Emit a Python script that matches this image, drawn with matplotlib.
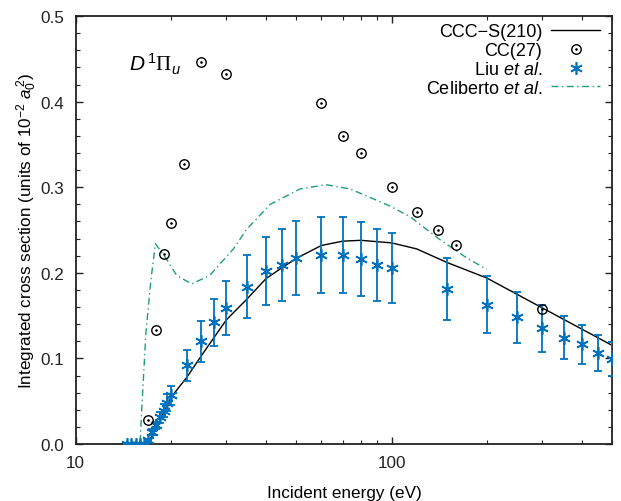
import matplotlib
matplotlib.use("Agg")
import matplotlib.pyplot as plt
from matplotlib.ticker import MultipleLocator, LogLocator, NullFormatter, FixedLocator, FixedFormatter
from matplotlib.legend_handler import HandlerTuple

plt.rcParams['font.family'] = ['Liberation Sans', 'DejaVu Sans']
plt.rcParams['mathtext.fontset'] = 'custom'
plt.rcParams['mathtext.rm'] = 'Liberation Sans'
plt.rcParams['mathtext.it'] = 'Liberation Sans:italic'
plt.rcParams['mathtext.sf'] = 'Liberation Serif'

# CCC-S(210)
ccc_E = [16.8, 17.5, 18, 18.3, 19, 19.6, 20, 22.5, 25, 28.6, 30, 35, 40, 45, 50, 60, 70, 80, 100, 120, 150, 200, 300, 500]
ccc_s = [0.0, 0.010, 0.018, 0.025, 0.037, 0.047, 0.054, 0.078, 0.103, 0.134, 0.145, 0.170, 0.193, 0.206, 0.217, 0.232,
         0.237, 0.238, 0.235, 0.228, 0.212, 0.194, 0.159, 0.115]

# CC(27)
cc_E = [17, 18, 19, 20, 22, 25, 30, 60, 70, 80, 100, 120, 140, 160, 300]
cc_s = [0.028, 0.133, 0.222, 0.258, 0.327, 0.446, 0.432, 0.399, 0.360, 0.340, 0.300, 0.271, 0.250, 0.232, 0.158]

# Liu et al.
liu_E = [14.5, 15, 15.5, 16, 16.5, 17, 17.5, 18, 18.5, 19, 19.5, 20, 22.5, 25, 27.5, 30, 35, 40, 45, 50,
         60, 70, 80, 90, 100, 150, 200, 250, 300, 350, 400, 450, 500]
liu_s = [0, 0, 0, 0, 0, 0.005, 0.014, 0.022, 0.031, 0.039, 0.048, 0.057, 0.092, 0.120, 0.142, 0.159, 0.184,
         0.202, 0.209, 0.217, 0.221, 0.221, 0.2165, 0.2095, 0.2056, 0.181, 0.163, 0.148, 0.135, 0.124, 0.1165,
         0.106, 0.0993]
liu_err = [0, 0, 0, 0, 0, 0.001, 0.003, 0.004, 0.006, 0.008, 0.010, 0.011, 0.018, 0.024, 0.028, 0.032, 0.037,
           0.040, 0.042, 0.043, 0.044, 0.044, 0.043, 0.042, 0.041, 0.036, 0.033, 0.030, 0.027, 0.025, 0.023,
           0.021, 0.020]

# Celiberto et al.
cel_E = [13.0, 16.0, 16.2, 16.7, 17.3, 17.9, 19.4, 20.9, 23.3, 26.6, 31.6, 34.8, 37.4, 41.3, 51.3, 62, 74,
         99, 115, 142, 172, 200]
cel_s = [0, 0, 0.04, 0.13, 0.19, 0.234, 0.216, 0.197, 0.187, 0.197, 0.228, 0.251, 0.263, 0.280, 0.298,
         0.303, 0.298, 0.278, 0.265, 0.239, 0.218, 0.204]

blue = '#0072bd'
green = '#1f9e7a'

fig = plt.figure(figsize=(6.21, 5.02), dpi=100)
ax = fig.add_axes([0.1216, 0.1135, 0.8647, 0.8525])

h_ccc, = ax.plot(ccc_E, ccc_s, color='black', lw=1.0, zorder=3)
h_cel, = ax.plot(cel_E, cel_s, color=green, lw=1.0, dashes=(5, 2.5, 1, 2.5), zorder=2)
ax.errorbar(liu_E, liu_s, yerr=liu_err, fmt='none', ecolor=blue, elinewidth=1.3, capsize=2.8, capthick=1.3, zorder=4)
h_liu, = ax.plot(liu_E, liu_s, linestyle='none', marker=(6, 2, 0), ms=9, mew=1.2, color=blue, zorder=5)
h_cc1, = ax.plot(cc_E, cc_s, linestyle='none', marker='o', ms=6.8, mfc='none', mec='black', mew=1.0, zorder=6)
h_cc2, = ax.plot(cc_E, cc_s, linestyle='none', marker='o', ms=1.3, mfc='black', mec='black', mew=0.5, zorder=6)

ax.set_xscale('log')
ax.set_xlim(10, 500)
ax.set_ylim(0, 0.5)
ax.xaxis.set_major_locator(FixedLocator([10, 100]))
ax.xaxis.set_major_formatter(FixedFormatter(['10', '100']))
ax.xaxis.set_minor_locator(LogLocator(base=10, subs=range(2, 10)))
ax.xaxis.set_minor_formatter(NullFormatter())
ax.yaxis.set_major_locator(MultipleLocator(0.1))
ax.yaxis.set_minor_locator(MultipleLocator(0.02))
ax.yaxis.set_major_formatter(plt.FuncFormatter(lambda v, p: f'{v:.1f}'))

ax.tick_params(which='both', direction='in', top=True, right=True, labelsize=12.3, colors='#222222')
ax.tick_params(which='major', length=5, width=1.0)
ax.tick_params(axis='x', which='major', pad=8)
ax.tick_params(axis='y', which='major', pad=8)
ax.tick_params(which='minor', length=3, width=0.8)
for sp in ax.spines.values():
    sp.set_linewidth(1.3)
    sp.set_color('#222222')

ax.set_xlabel('Incident energy (eV)', fontsize=12.3, labelpad=11)
ax.set_ylabel(r'Integrated cross section (units of $10^{-2}$ $a_0^{\,2}$)', fontsize=12.3, labelpad=1)

ax.text(14.8, 0.445, r'$D\,^1\mathsf{\Pi}_u$', fontsize=15, ha='left', va='center')

leg = ax.legend([h_ccc, (h_cc1, h_cc2), h_liu, h_cel],
                ['CCC\u2212S(210)', 'CC(27)', r'Liu $et\ al.$', r'Celiberto $et\ al.$'],
                handler_map={tuple: HandlerTuple(ndivide=1, pad=0)},
                loc='upper right', bbox_to_anchor=(0.99, 1.0), frameon=False, markerfirst=False,
                fontsize=13, handlelength=2.7, labelspacing=0.1, handletextpad=0.5, borderaxespad=0.0)

fig.savefig('out.png', dpi=100)
